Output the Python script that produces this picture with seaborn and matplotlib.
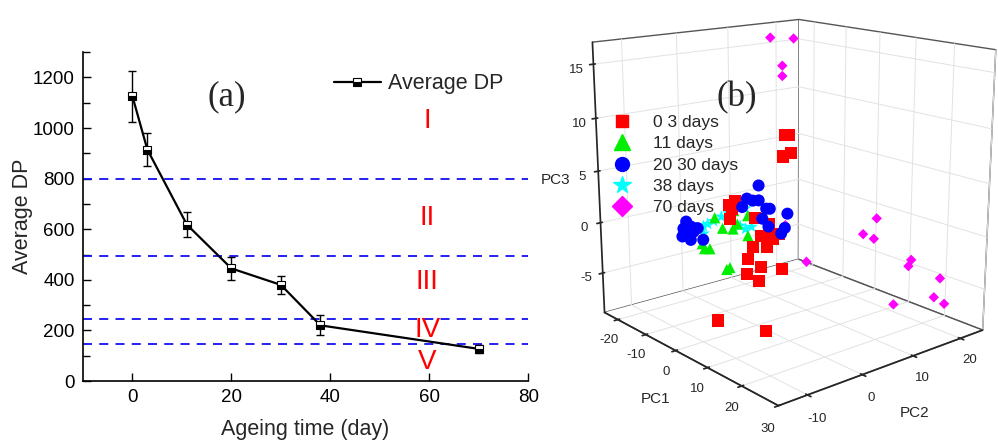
import matplotlib
matplotlib.use("Agg")
import matplotlib.pyplot as plt
from matplotlib.lines import Line2D
import seaborn as sns
import pandas as pd

# ---- panel (a): average DP vs ageing time ----
days = [0, 3, 11, 20, 30, 38, 70]
avg_dp = [1125, 915, 618, 445, 380, 220, 127]
dp_err = [100, 65, 50, 47, 35, 40, 17]
stage_lines = [800, 495, 245, 145]
stage_names = ["I", "II", "III", "IV", "V"]
stage_y = [1026, 645, 392, 202, 75]

# ---- panel (b): PCA scores ----
g1_pc1 = [15.0, 16.0, 14.3, 16.4, -1.7, 0.3, -0.7, -1.4, 6.2, 10.3, 7.9, 9.7,
          13.1, 11.4, 5.5, 9.7, 4.1, 7.9, 14.1, 3.8, 7.2, 10.0, 9.3]
g1_pc2 = [-4, -4, -4, -4, -4, -4, -4, -4, -4, -4, -4, -4,
          -4, -4, -4, -4, -4, -4, -4, -4, -4, -13, -4]
g1_pc3 = [10.8, 10.9, 8.9, 9.4, 3.0, 3.5, 2.7, 1.7, 2.6, 2.5, 1.2, 1.3,
          2.0, 1.3, -0.1, 0.4, -1.4, -1.7, -1.1, -2.9, -3.1, -5.0, -7.5]

g2_pc1 = [1.4, 4.6, 5.9, 9.0, 9.0, -1.0, 4.9, -5.1, -4.4, -2.7, 2.5, 3.5]
g2_pc2 = [-7] * 12
g2_pc3 = [1.5, 1.8, 2.4, 3.5, 1.7, 2.2, 3.5, -0.7, -1.1, -0.9, -2.2, -1.9]

g3_pc1 = [12.2, 8.8, 10.5, 12.2, 7.4, 14.3, 15.3, 13.2, 20.1, 19.4, 18.4,
          14.9, -10.3, -11.3, -8.9, -7.2, -11.7, -9.6, -7.9, -8.9, -4.8, -6.5]
g3_pc2 = [-7] * 22
g3_pc3 = [6.5, 5.0, 5.0, 5.2, 4.1, 4.7, 4.8, 3.7, 4.9, 3.6, 3.0,
          3.2, 0.8, 0.0, 0.5, 0.5, -0.8, -0.3, 0.1, -0.8, -0.3, 0.6]

g4_pc1 = [3.4, -4.1, -8.6, -10.0, -11.0, -10.0, -6.6, 3.4, 5.2, -1.7, 1.7]
g4_pc2 = [-4] * 11
g4_pc3 = [3.2, 1.6, 0.4, 0.0, -0.4, -0.7, 0.9, 1.3, 1.7, 2.2, 1.4]

g5_pc1 = [-15.9, -8.6, -12.1, -12.1, -6.6, 0.0, 9.3, 5.5, 8.6, 19.0, 18.3,
          26.6, 25.2, 24.4, 14.5]
g5_pc2 = [13, 13, 13, 13, 10, 10, 18, 18, 18, 18, 18, 18, 18, 21, 18]
g5_pc3 = [16.3, 16.6, 13.8, 12.8, -1.2, -4.1, 0.3, -1.7, -1.8, -2.6, -3.3,
          -3.4, -5.4, -6.6, -7.6]

groups = ["0 3 days", "11 days", "20 30 days", "38 days", "70 days"]

sns.set_theme(style="ticks")
plt.rcParams["font.family"] = ["Liberation Sans", "DejaVu Sans"]
plt.rcParams["axes.unicode_minus"] = False

fig = plt.figure(figsize=(9.98, 4.42), dpi=100)

ax = fig.add_axes([0.0832, 0.138, 0.446, 0.744])
df = pd.DataFrame({"day": days, "dp": avg_dp})
ax.errorbar(days, avg_dp, yerr=dp_err, fmt="none", ecolor="black",
            elinewidth=1.0, capsize=3, capthick=1.0, zorder=3)
sns.lineplot(data=df, x="day", y="dp", ax=ax, color="black", linewidth=1.6,
             marker="s", markersize=5.5, fillstyle="bottom",
             markerfacecolor="black", markerfacecoloralt="white",
             markeredgecolor="black", markeredgewidth=0.8,
             label="Average DP", zorder=4)
for yv in stage_lines:
    ax.axhline(yv, color="#1010ee", linestyle=(0, (5, 4)), linewidth=1.3, zorder=2)
for name, yv in zip(stage_names, stage_y):
    ax.text(59.6, yv, name, color="red", fontsize=20, ha="center", va="center")
ax.text(19, 1125, "(a)", fontsize=25, family=["Liberation Serif"],
        ha="center", va="center")

ax.set_xlim(-10, 80)
ax.set_ylim(0, 1300)
ax.set_xticks([0, 20, 40, 60, 80])
ax.set_yticks([0, 200, 400, 600, 800, 1000, 1200])
ax.set_yticks(range(100, 1400, 200), minor=True)
ax.tick_params(axis="both", which="both", direction="in", labelsize=13.5,
               color="black", labelcolor="black", pad=6)
ax.tick_params(axis="both", which="major", length=6, width=1)
ax.tick_params(axis="y", which="minor", length=5, width=1)
ax.set_xlabel("Ageing time (day)", fontsize=15.5, labelpad=9)
ax.set_ylabel("Average DP", fontsize=15.5, labelpad=0)
for side in ["top", "right"]:
    ax.spines[side].set_visible(False)
for side in ["left", "bottom"]:
    ax.spines[side].set_color("black")
    ax.spines[side].set_linewidth(1.2)
leg = ax.legend(loc="upper right", bbox_to_anchor=(0.987, 0.995), frameon=False,
                fontsize=15.5, handlelength=2.2, handletextpad=0.3)

# ---- 3D scatter ----
ax3 = fig.add_axes([0.540, 0.01, 0.49, 1.1], projection="3d")
ax3.patch.set_alpha(0)
ax3.set_proj_type("persp", focal_length=0.45)
ax3.view_init(elev=15.5, azim=-40)
ax3.set_box_aspect((1.15, 1.07, 1.14), zoom=0.97)

styles = [
    (g1_pc1, g1_pc2, g1_pc3, "#ff0000", "s", 75),
    (g2_pc1, g2_pc2, g2_pc3, "#00ee00", "^", 65),
    (g3_pc1, g3_pc2, g3_pc3, "#0000ff", "o", 75),
    (g4_pc1, g4_pc2, g4_pc3, "#00ffff", "*", 95),
    (g5_pc1, g5_pc2, g5_pc3, "#ff00ff", "D", 28),
]
for xs, ys, zs, col, mk, sz in styles:
    ax3.scatter(xs, ys, zs, c=col, marker=mk, s=sz, depthshade=False,
                edgecolors="none")

ax3.set_xlim(-25, 30)
ax3.set_ylim(-15, 25)
ax3.set_zlim(-9, 17)
ax3.set_xticks([-20, -10, 0, 10, 20, 30])
ax3.set_yticks([-10, 0, 10, 20])
ax3.set_zticks([-5, 0, 5, 10, 15])
ax3.tick_params(labelsize=9.5, pad=0)
ax3.zaxis.set_ticks_position("lower")
ax3.zaxis.set_label_position("lower")
ax3.set_xlabel("PC1", fontsize=11, labelpad=2)
ax3.set_ylabel("PC2", fontsize=11, labelpad=2)
ax3.set_zlabel("PC3", fontsize=11, labelpad=0)
for axis in (ax3.xaxis, ax3.yaxis, ax3.zaxis):
    axis.set_pane_color((1, 1, 1, 1))
    axis.pane.set_edgecolor("#555555")
    axis._axinfo["grid"].update(color="#e2e2e2", linewidth=0.7)
    axis._axinfo["axisline"]["color"] = "#333333"

handles = [
    Line2D([], [], linestyle="none", marker="s", markersize=9, color="#ff0000"),
    Line2D([], [], linestyle="none", marker="^", markersize=11, color="#00ee00"),
    Line2D([], [], linestyle="none", marker="o", markersize=10, color="#0000ff"),
    Line2D([], [], linestyle="none", marker="*", markersize=13, color="#00ffff"),
    Line2D([], [], linestyle="none", marker="D", markersize=10, color="#ff00ff"),
]
fig.legend(handles, groups, loc="upper left", bbox_to_anchor=(0.59, 0.775),
           frameon=False, fontsize=12.5, handletextpad=0.8, labelspacing=0.35)
fig.text(0.738, 0.78, "(b)", fontsize=25, family=["Liberation Serif"],
         ha="center", va="center")

fig.savefig("out.png", dpi=100)
